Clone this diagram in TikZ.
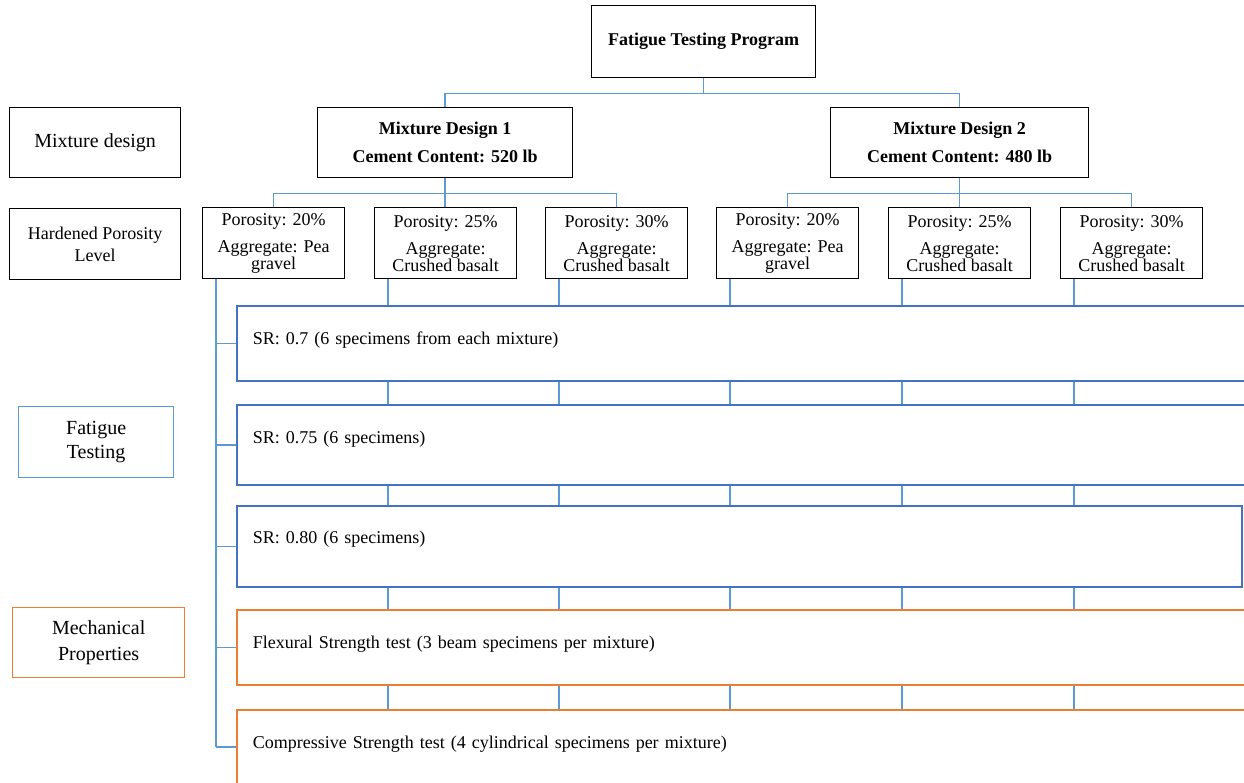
\documentclass[tikz,border=0pt]{standalone}
\usepackage{fontspec}
\setmainfont{Liberation Serif}
\usepackage{tikz}
\usetikzlibrary{calc}
\definecolor{lineblue}{RGB}{91,155,213}
\definecolor{boxblue}{RGB}{68,114,196}
\definecolor{boxorange}{RGB}{237,125,49}
\tikzset{box/.style={shape=rectangle, draw=black, line width=1.3pt, fill=white,
    anchor=north west, inner sep=0pt, align=center,
    font=\fontsize{18}{17}\selectfont}}
\tikzset{poro/.style={box, minimum width=142pt, minimum height=71pt}}
\tikzset{wide/.style={box, draw=boxblue, line width=1.6pt, align=left,
    inner xsep=16pt, text width=#1, minimum height=75pt, text depth=10pt}}
\tikzset{conn/.style={draw=lineblue, line width=1.6pt}}

\begin{document}
\begin{tikzpicture}[x=1pt, y=-1pt]
      \useasboundingbox (0,0) rectangle (1244,782);
      \clip (0,0) rectangle (1244,782);
      % tree
      \node[box, minimum width=224pt, minimum height=72pt,
        font=\fontsize{18}{18}\selectfont\bfseries] (prog) at (591,5)
        {Fatigue Testing Program};
      \node[box, minimum width=255pt, minimum height=70pt,
        font=\fontsize{18}{18}\selectfont\bfseries] (md1) at (317,107)
        {Mixture Design 1\\[10pt]Cement Content: 520 lb};
      \node[box, minimum width=258pt, minimum height=70pt,
        font=\fontsize{18}{18}\selectfont\bfseries] (md2) at (830,107)
        {Mixture Design 2\\[10pt]Cement Content: 480 lb};
      \foreach \i/\x/\t in {1/202/{Porosity: 20\%\\[10pt]Aggregate: Pea\\gravel},
          2/374/{Porosity: 25\%\\[10pt]Aggregate:\\Crushed basalt},
          3/545/{Porosity: 30\%\\[10pt]Aggregate:\\Crushed basalt},
          4/716/{Porosity: 20\%\\[10pt]Aggregate: Pea\\gravel},
          5/888/{Porosity: 25\%\\[10pt]Aggregate:\\Crushed basalt},
          6/1060/{Porosity: 30\%\\[10pt]Aggregate:\\Crushed basalt}} {
        \node[poro] (p\i) at (\x,207) {\t};
        \coordinate (c\i) at ($(p\i.south west)+(14,0)$);
      }
      % side labels
      \node[box, minimum width=171pt, minimum height=70pt,
        font=\fontsize{20}{20}\selectfont] (lmix) at (9,107) {Mixture design};
      \node[box, minimum width=171pt, minimum height=71pt,
        font=\fontsize{18}{22}\selectfont] (lpor) at (9,208)
        {Hardened Porosity\\Level};
      \node[box, draw=lineblue, minimum width=155pt, minimum height=71pt,
        font=\fontsize{20}{24}\selectfont] (lfat) at (18,406) {Fatigue\\Testing};
      \node[box, draw=boxorange, minimum width=172pt, minimum height=70pt,
        font=\fontsize{20}{26}\selectfont] (lmech) at (12,607)
        {Mechanical\\Properties};
      % tests
      \node[wide=992pt] (sr1) at (236,305)
        {SR: 0.7 (6 specimens from each mixture)};
      \node[wide=992pt, minimum height=80pt, text depth=16pt] (sr2) at (236,404)
        {SR: 0.75 (6 specimens)};
      \node[wide=973pt, minimum height=81pt, text depth=19pt] (sr3) at (236,505)
        {SR: 0.80 (6 specimens)};
      \node[wide=992pt, draw=boxorange] (flex) at (236,609)
        {Flexural Strength test (3 beam specimens per mixture)};
      \node[wide=992pt, draw=boxorange, minimum height=74pt] (comp) at (236,709)
        {Compressive Strength test (4 cylindrical specimens per mixture)};
      % connectors
      \draw[conn] (prog.south) -- ++(0,15) -| (md1.north);
      \draw[conn] (prog.south) -- ++(0,15) -| (md2.north);
      \foreach \m/\a/\b/\c in {md1/p1/p2/p3, md2/p4/p5/p6} {
        \draw[conn] (\m.south) -- ++(0,15) -| (\a.north);
        \draw[conn] (\m.south) -- ++(0,15) -| (\c.north);
        \draw[conn] (\m.south) -- (\m.south |- \b.north);
      }
      \draw[conn] (c1) -- (c1 |- comp.west);
      \foreach \n in {sr1, sr2, sr3, flex, comp}
        \draw[conn] (c1 |- \n.west) -- (\n.west);
      \foreach \i in {2,...,6} {
        \draw[conn] (c\i) -- (c\i |- sr1.north);
        \foreach \u/\v in {sr1/sr2, sr2/sr3, sr3/flex, flex/comp}
          \draw[conn] (c\i |- \u.south) -- (c\i |- \v.north);
      }
\end{tikzpicture}
\end{document}
